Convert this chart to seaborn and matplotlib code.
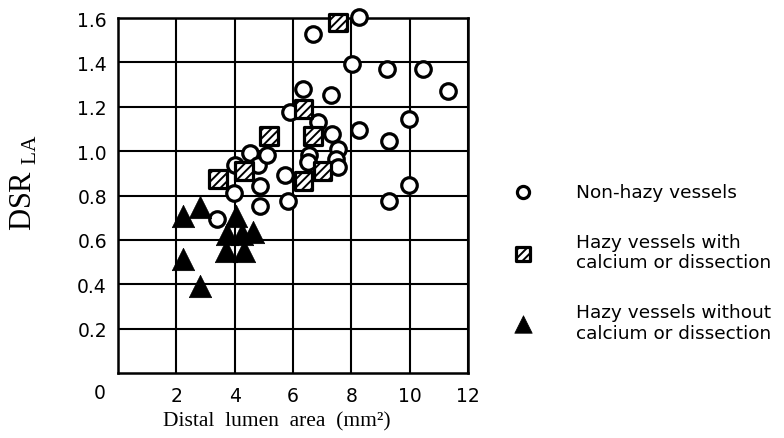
import numpy as np
import pandas as pd
import matplotlib
matplotlib.use('Agg')
import matplotlib.pyplot as plt
import seaborn as sns

# Données (surface luminale distale, DSR_LA)
nonhazy_x = [3.40, 3.99, 4.02, 4.54, 4.81, 5.12, 4.88, 4.88, 5.74, 5.84, 5.91,
             6.36, 6.70, 8.28, 8.01, 9.24, 10.45, 11.31, 7.32, 6.87, 7.35, 8.25,
             9.97, 9.28, 7.53, 6.56, 6.53, 7.46, 7.53, 9.97, 9.28]
nonhazy_y = [0.695, 0.813, 0.939, 0.993, 0.939, 0.984, 0.844, 0.754, 0.894, 0.777, 1.178,
             1.282, 1.526, 1.603, 1.391, 1.368, 1.368, 1.273, 1.251, 1.133, 1.079, 1.097,
             1.147, 1.047, 1.011, 0.984, 0.953, 0.966, 0.930, 0.849, 0.777]

calc_x = [3.44, 4.33, 5.19, 7.53, 6.36, 6.70, 7.01, 6.36]
calc_y = [0.876, 0.912, 1.070, 1.580, 1.190, 1.070, 0.912, 0.867]

nocalc_x = [2.23, 2.82, 4.05, 3.75, 4.26, 4.64, 3.71, 4.33, 2.23, 2.82]
nocalc_y = [0.709, 0.749, 0.709, 0.628, 0.628, 0.637, 0.551, 0.551, 0.515, 0.393]

x_ticks = [2, 4, 6, 8, 10, 12]
y_ticks = [0.2, 0.4, 0.6, 0.8, 1.0, 1.2, 1.4, 1.6]
y_labels = ['0.2', '0.4', '0.6', '0.8', '1.0', '1.2', '1.4', '1.6']

labels = ['Non-hazy vessels',
          'Hazy vessels with\ncalcium or dissection',
          'Hazy vessels without\ncalcium or dissection']

sns.set_theme(style='white')
plt.rcParams['font.family'] = ['DejaVu Sans']
plt.rcParams['text.color'] = 'black'
plt.rcParams['hatch.linewidth'] = 1.4
plt.rcParams['mathtext.fontset'] = 'custom'
plt.rcParams['mathtext.rm'] = 'Liberation Serif'

fig = plt.figure(figsize=(7.84, 4.39), dpi=100)
ax = fig.add_axes([0.1505, 0.148, 0.4464, 0.8087])

df_n = pd.DataFrame({'x': nonhazy_x, 'y': nonhazy_y})
df_c = pd.DataFrame({'x': calc_x, 'y': calc_y})
df_t = pd.DataFrame({'x': nocalc_x, 'y': nocalc_y})

sns.scatterplot(data=df_n, x='x', y='y', ax=ax, marker='o', s=125, color='white',
                edgecolor='black', linewidth=2.3, label=labels[0], clip_on=False, zorder=3)
sns.scatterplot(data=df_c, x='x', y='y', ax=ax, marker='s', s=165, color='white',
                edgecolor='black', linewidth=2.3, hatch='////', label=labels[1],
                clip_on=False, zorder=5)
sns.scatterplot(data=df_t, x='x', y='y', ax=ax, marker='^', s=260, color='black',
                edgecolor='black', linewidth=0.5, label=labels[2], clip_on=False, zorder=4)

ax.set_xlim(0, 12)
ax.set_ylim(0, 1.6)
ax.set_xticks(x_ticks)
ax.set_yticks(y_ticks)
ax.set_yticklabels(y_labels)
ax.tick_params(length=0, labelsize=13.5, colors='black')
ax.tick_params(axis='x', pad=9)
ax.tick_params(axis='y', pad=8)
ax.grid(True, color='black', linewidth=1.5)
ax.set_axisbelow(True)
for sp in ax.spines.values():
    sp.set_color('black')
    sp.set_linewidth(1.8)

ax.text(-0.051, -0.054, '0', transform=ax.transAxes, ha='center', va='center',
        fontsize=13.5, color='black')

ax.set_xlabel('Distal  lumen  area  (mm²)', fontsize=15.5, family='Liberation Serif',
              color='black')
ax.xaxis.set_label_coords(0.454, -0.107)
ax.set_ylabel(r'DSR$_{\ \mathrm{LA}}$', fontsize=22, family='Liberation Serif',
              color='black')
ax.yaxis.set_label_coords(-0.226, 0.54)

ax.legend(loc='center left', bbox_to_anchor=(0.655, 0.400), bbox_transform=fig.transFigure,
          frameon=False, fontsize=13.3, labelspacing=1.7, handlelength=1.0,
          handletextpad=2.4, borderpad=0, borderaxespad=0, markerscale=0.78,
          labelcolor='black')

fig.savefig('out.png', dpi=100)
